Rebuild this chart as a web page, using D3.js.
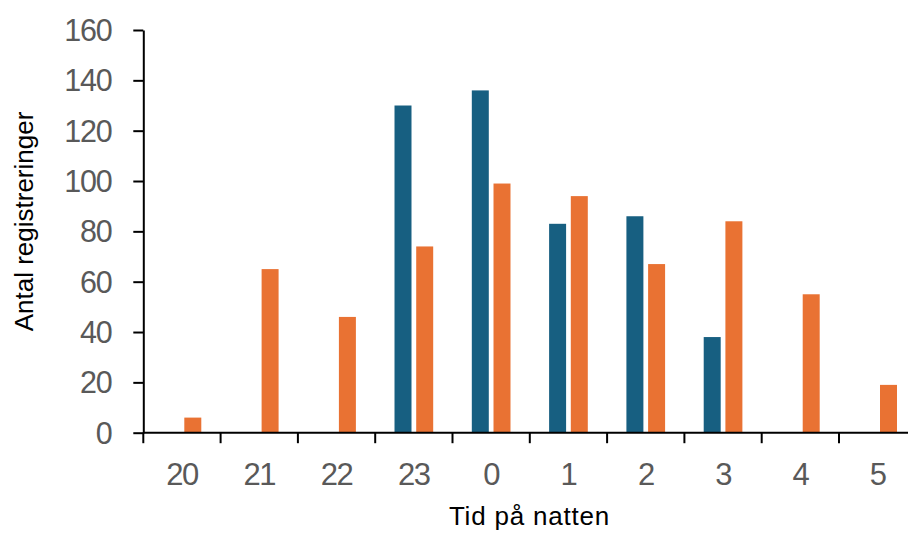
<!DOCTYPE html>
<html>
<head>
<meta charset="utf-8">
<script src="https://cdn.jsdelivr.net/npm/d3@7"></script>
<style>
  html, body { margin: 0; padding: 0; background: #fff; }
  svg { display: block; font-family: "Liberation Sans", Arial, sans-serif; }
</style>
</head>
<body>
<svg id="chart" width="908" height="535"></svg>
<script>
// Hour of the night (categories along the x axis)
const hours = ["20", "21", "22", "23", "0", "1", "2", "3", "4", "5"];
// Registrations per hour, two series (null = no registrations drawn)
const seriesBlue = [null, null, null, 130, 136, 83, 86, 38, null, null];
const seriesOrange = [6, 65, 46, 74, 99, 94, 67, 84, 55, 19];
const seriesNames = ["blue", "orange"];
const seriesColors = ["#175f81", "#e97233"];
const yTicks = [0, 20, 40, 60, 80, 100, 120, 140, 160];
const yTitle = "Antal registreringer";
const xTitle = "Tid på natten";

const svg = d3.select("#chart");
const plotLeft = 143.3, plotTop = 30, plotBottom = 432.7;
const step = 77.3;

const x = d3.scaleBand()
  .domain(hours)
  .range([plotLeft, plotLeft + step * hours.length])
  .padding(0);

const x1 = d3.scaleBand()
  .domain(seriesNames)
  .range([0, x.bandwidth()])
  .paddingInner(0.217)
  .paddingOuter(0.89);

const y = d3.scaleLinear().domain([0, 160]).range([plotBottom, plotTop]);

const rows = hours.map((h, i) => ({ hour: h, values: [seriesBlue[i], seriesOrange[i]] }));

// Bars
const groups = svg.append("g").selectAll("g")
  .data(rows)
  .join("g")
  .attr("transform", d => `translate(${x(d.hour)},0)`);

groups.selectAll("rect")
  .data(d => d.values.map((v, k) => ({ key: seriesNames[k], value: v, color: seriesColors[k] }))
    .filter(e => e.value != null))
  .join("rect")
  .attr("x", e => x1(e.key))
  .attr("width", x1.bandwidth())
  .attr("y", e => y(e.value))
  .attr("height", e => y(0) - y(e.value))
  .attr("fill", e => e.color);

// Y axis
const yAxis = d3.axisLeft(y)
  .tickValues(yTicks)
  .tickSize(10)
  .tickPadding(22)
  .tickSizeOuter(0);

const gy = svg.append("g")
  .attr("transform", `translate(${plotLeft},0)`)
  .call(yAxis);
gy.select(".domain").attr("stroke", "#000").attr("stroke-width", 2);
gy.selectAll(".tick line").attr("stroke", "#000").attr("stroke-width", 2);
gy.selectAll(".tick text")
  .attr("fill", "#595959")
  .attr("font-size", 30.5)
  .attr("letter-spacing", "-1.3px")
  .attr("dy", "0.34em")
  .style("font-family", "'Liberation Sans', Arial, sans-serif");

// X axis: baseline, boundary ticks and hour labels
const gx = svg.append("g");
gx.append("line")
  .attr("x1", plotLeft).attr("x2", x.range()[1])
  .attr("y1", y(0)).attr("y2", y(0))
  .attr("stroke", "#000").attr("stroke-width", 2);

const boundaries = hours.map(h => x(h)).concat([x.range()[1]]);
gx.selectAll("line.tick")
  .data(boundaries)
  .join("line")
  .attr("class", "tick")
  .attr("x1", d => d).attr("x2", d => d)
  .attr("y1", y(0)).attr("y2", y(0) + 10.5)
  .attr("stroke", "#000").attr("stroke-width", 2);

gx.selectAll("text")
  .data(hours)
  .join("text")
  .attr("x", h => x(h) + x.bandwidth() / 2)
  .attr("y", y(0) + 52.3)
  .attr("text-anchor", "middle")
  .attr("fill", "#595959")
  .attr("font-size", 31)
  .attr("letter-spacing", "-1.5px")
  .text(h => h);

// Axis titles
svg.append("text")
  .attr("transform", "translate(33,221.5) rotate(-90)")
  .attr("text-anchor", "middle")
  .attr("font-size", 26)
  .attr("fill", "#000")
  .text(yTitle);

svg.append("text")
  .attr("x", 529.5)
  .attr("y", 525)
  .attr("text-anchor", "middle")
  .attr("font-size", 26)
  .attr("letter-spacing", "0.8px")
  .attr("fill", "#000")
  .text(xTitle);
</script>
</body>
</html>
